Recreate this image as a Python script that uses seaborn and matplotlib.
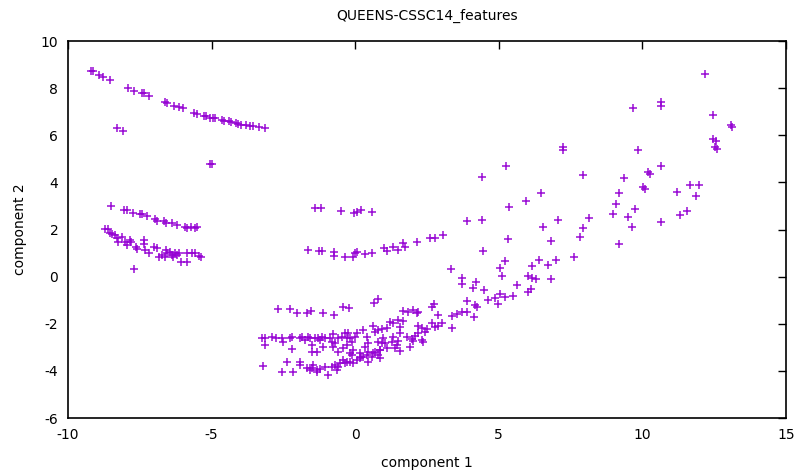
import numpy as np
import pandas as pd
import matplotlib
matplotlib.use('Agg')
import matplotlib.pyplot as plt
import seaborn as sns

# Points, grouped roughly by cluster
upper_x = [-9.20, -9.13, -8.92, -8.78, -8.54, -7.91, -7.70, -7.42, -7.35, -7.18,
           -6.62, -6.55, -6.31, -6.13, -5.99, -5.61, -5.51, -5.26, -5.19, -5.06,
           -4.95, -4.88, -4.64, -4.57, -4.39, -4.32, -4.15, -4.08, -3.98, -3.80,
           -3.66, -3.56, -3.35, -3.14, -8.29, -8.08, -5.06, -4.99]
upper_y = [8.73, 8.73, 8.56, 8.47, 8.34, 8.01, 7.88, 7.79, 7.79, 7.67,
           7.41, 7.37, 7.24, 7.20, 7.16, 6.94, 6.90, 6.82, 6.82, 6.73,
           6.73, 6.73, 6.65, 6.60, 6.60, 6.56, 6.52, 6.48, 6.43, 6.43,
           6.39, 6.39, 6.35, 6.31, 6.31, 6.18, 4.78, 4.78]

mid_left_x = [-8.50, -8.05, -7.95, -7.74, -7.49, -7.42, -7.25, -6.97, -6.90, -6.66,
              -6.59, -6.38, -6.20, -5.93, -5.86, -5.72, -5.58, -5.51,
              -8.71, -8.61, -8.54, -8.47, -8.36, -8.29, -8.12, -8.26, -8.02, -7.95,
              -7.81, -7.84, -7.63, -7.60, -7.35, -7.35, -7.32, -7.18, -7.01, -6.90,
              -6.83, -6.73, -6.62, -6.59, -6.55, -6.45, -6.38, -6.34, -6.27, -6.20,
              -6.13, -6.07, -5.86, -5.86, -5.68, -5.58, -5.44, -5.37, -7.70]
mid_left_y = [3.00, 2.83, 2.83, 2.70, 2.66, 2.66, 2.58, 2.44, 2.36, 2.36,
              2.28, 2.28, 2.19, 2.11, 2.06, 2.11, 2.06, 2.11,
              2.02, 2.02, 1.85, 1.81, 1.77, 1.64, 1.68, 1.47, 1.47, 1.34,
              1.47, 1.55, 1.26, 1.17, 1.55, 1.38, 1.13, 1.00, 1.26, 1.21,
              0.83, 0.92, 0.83, 1.13, 1.00, 1.04, 0.92, 0.83, 1.00, 0.92,
              1.00, 0.62, 0.62, 1.00, 1.00, 1.00, 0.87, 0.83, 0.32]

center_x = [-1.64, -1.26, -1.16, -0.74, -0.74, -0.36, -0.08, 0.00, 0.07, 0.34,
            0.58, 1.00, 1.11, 1.32, 1.49, 1.66, 1.73, 2.15, 2.60, 2.78,
            3.06, 3.89, 4.42, 4.45,
            -1.40, -1.19, -0.49, -0.03, 0.07, 0.20, 0.58]
center_y = [1.13, 1.09, 1.09, 1.04, 0.87, 0.83, 0.83, 1.00, 1.04, 0.96,
            1.00, 1.21, 1.09, 1.26, 1.13, 1.43, 1.26, 1.47, 1.64, 1.64,
            1.77, 2.36, 2.40, 1.09,
            2.91, 2.91, 2.78, 2.70, 2.74, 2.83, 2.74]

low_left_x = [-2.69, -2.27, -2.03, -1.68, -1.54, -1.12, -0.74, -0.43, -0.22,
              -3.26, -3.14, -2.91, -2.76, -2.56, -2.50, -2.27, -2.21, -1.92, -1.86,
              -1.75, -1.63, -1.57, -1.40, -1.28, -1.23, -1.17, -1.05, -0.88, -0.82,
              -0.76, -0.70, -0.59, -0.47, -0.36, -0.24, -0.30, -0.18, -0.12, -0.01,
              0.05, 0.26, 0.40, 0.46,
              -3.14, -2.21, -1.52, -1.52, -1.34, -1.11, -0.76, -0.59, -0.41, -0.30,
              -0.18, -0.07, 0.17, 0.34, 0.46,
              -3.20, -2.56, -2.39, -2.18, -1.92, -1.92, -1.69, -1.57, -1.46, -1.34,
              -1.23, -1.05, -0.94, -0.82, -0.70, -0.65, -0.53, -0.41, -0.30, -0.18,
              -0.07, 0.05, 0.17, 0.28, 0.40, 0.46,
              0.22, 0.69, 0.86, 0.92, -0.12, -0.36, -0.59, -1.52, -1.34]
low_left_y = [-1.38, -1.38, -1.55, -1.55, -1.46, -1.55, -1.63, -1.29, -1.33,
              -2.62, -2.59, -2.55, -2.62, -2.59, -2.76, -2.62, -2.55, -2.62, -2.55,
              -2.69, -2.55, -2.62, -2.62, -2.59, -2.69, -2.55, -2.62, -2.59, -2.76,
              -2.45, -2.83, -2.59, -2.55, -2.41, -2.41, -2.59, -2.62, -2.76, -2.55,
              -2.41, -2.27, -2.55, -2.83,
              -2.90, -3.09, -2.90, -3.19, -3.21, -2.97, -2.97, -3.19, -3.04, -2.90,
              -3.26, -3.11, -3.26, -2.97, -3.19,
              -3.79, -4.06, -3.61, -4.06, -3.61, -3.75, -3.87, -3.96, -3.75, -4.04,
              -3.92, -3.82, -4.18, -3.82, -3.75, -3.96, -3.68, -3.54, -3.61, -3.61,
              -3.68, -3.54, -3.47, -3.40, -3.33, -3.61,
              -3.40, -3.19, -3.12, -2.83, -3.33, -3.68, -3.82, -3.89, -3.96]

low_mid_x = [0.65, 0.81, 1.68, 1.85, 2.02, 2.14, 2.20, 2.66, 2.74, 2.89,
             3.36, 3.53, 3.71, 3.88, 3.71, 3.71, 3.88, 3.36, 3.33,
             1.21, 1.33, 1.50, 1.68, 0.63, 0.69, 0.81, 0.92, 1.10, 1.56,
             2.20, 2.31, 2.49, 2.66, 2.78, 2.89, 3.01, 2.43, 2.20, 2.08,
             1.97, 1.91, 1.79, 1.56, 1.33, 0.98, 0.81, 1.04, 1.27, 1.50,
             1.44, 1.56, 1.39, 1.10, 0.86, 0.63, 0.81, 0.86, 0.57, 2.31,
             2.37, 2.02]
low_mid_y = [-1.13, -0.96, -1.45, -1.52, -1.42, -1.56, -1.49, -1.28, -1.16, -1.63,
             -1.67, -1.60, -1.49, -1.49, -0.07, -0.33, -1.04, -2.18, 0.34,
             -1.91, -1.98, -1.84, -1.87, -2.10, -2.34, -2.27, -2.24, -2.17, -2.12,
             -2.10, -2.20, -2.24, -1.98, -2.15, -2.10, -1.95, -2.34, -2.41, -2.52,
             -2.66, -2.97, -2.58, -2.41, -2.55, -2.62, -2.76, -2.83, -2.76, -2.72,
             -2.90, -3.14, -3.04, -3.04, -3.11, -3.26, -3.33, -3.47, -3.40, -2.69,
             -2.76, -2.73]

right_x = [4.40, 7.92, 6.47, 5.94, 5.37, 7.07, 6.55, 8.15, 7.94, 7.83,
           6.81, 5.32, 5.22, 5.04, 5.10, 6.41, 6.17, 6.72, 6.99, 7.63,
           6.82, 6.03, 6.14, 6.30, 5.65, 6.11, 6.03, 5.48, 5.06, 5.20,
           4.87, 4.61, 4.98, 4.21, 4.11, 4.50, 4.17, 4.25, 4.15, 9.20,
           5.25, 7.22, 7.22,
           12.18, 9.66, 10.65, 10.65, 12.47, 13.07, 13.13, 12.47, 12.56, 12.53,
           12.61, 9.84, 10.18, 10.26, 10.64, 9.36, 9.19, 10.03, 10.09, 9.08,
           8.99, 9.75, 9.51, 9.64, 10.65, 11.22, 11.66, 11.97, 11.87, 11.57,
           11.32]
right_y = [4.21, 4.31, 3.53, 3.22, 2.94, 2.40, 2.09, 2.47, 2.05, 1.70,
           1.53, 1.58, 0.68, 0.35, 0.03, 0.71, 0.45, 0.49, 0.71, 0.82,
           -0.12, 0.03, -0.07, -0.12, -0.36, -0.53, -0.67, -0.81, -0.74, -0.85,
           -0.89, -0.99, -1.18, -0.22, -0.47, -0.57, -1.21, -1.30, -1.70, 1.38,
           4.69, 5.49, 5.37,
           8.60, 7.17, 7.43, 7.24, 6.86, 6.43, 6.36, 5.83, 5.76, 5.49,
           5.43, 5.37, 4.43, 4.34, 4.68, 4.18, 3.53, 3.79, 3.70, 3.07,
           2.64, 2.87, 2.54, 2.12, 2.33, 3.61, 3.89, 3.89, 3.43, 2.80,
           2.63]

comp1 = upper_x + mid_left_x + center_x + low_left_x + low_mid_x + right_x
comp2 = upper_y + mid_left_y + center_y + low_left_y + low_mid_y + right_y
df = pd.DataFrame({'component 1': comp1, 'component 2': comp2})

sns.set_style('white')
plt.rcParams['font.family'] = ['DejaVu Sans']
plt.rcParams['axes.unicode_minus'] = False
plt.rcParams['text.color'] = 'black'
plt.rcParams['axes.labelcolor'] = 'black'
plt.rcParams['xtick.color'] = 'black'
plt.rcParams['ytick.color'] = 'black'

fig = plt.figure(figsize=(7.96, 4.72), dpi=100)
ax = fig.add_axes([0.0854, 0.1144, 0.9020, 0.7987])
sns.scatterplot(data=df, x='component 1', y='component 2', ax=ax,
                marker='+', color='#9400d3', s=40, linewidth=1.1, alpha=0.95)

ax.set_xlim(-10, 15)
ax.set_ylim(-6, 10)
ax.set_xticks(np.arange(-10, 16, 5))
ax.set_yticks(np.arange(-6, 11, 2))
ax.tick_params(direction='in', top=True, right=True, length=6, width=1,
               labelsize=10, pad=7)
for sp in ax.spines.values():
    sp.set_linewidth(1.2)
    sp.set_color('black')
ax.set_xlabel('component 1', fontsize=10, labelpad=10)
ax.set_ylabel('component 2', fontsize=10, labelpad=10)
ax.set_title('QUEENS-CSSC14_features', fontsize=10, pad=15)

fig.savefig('out.png', dpi=100)
